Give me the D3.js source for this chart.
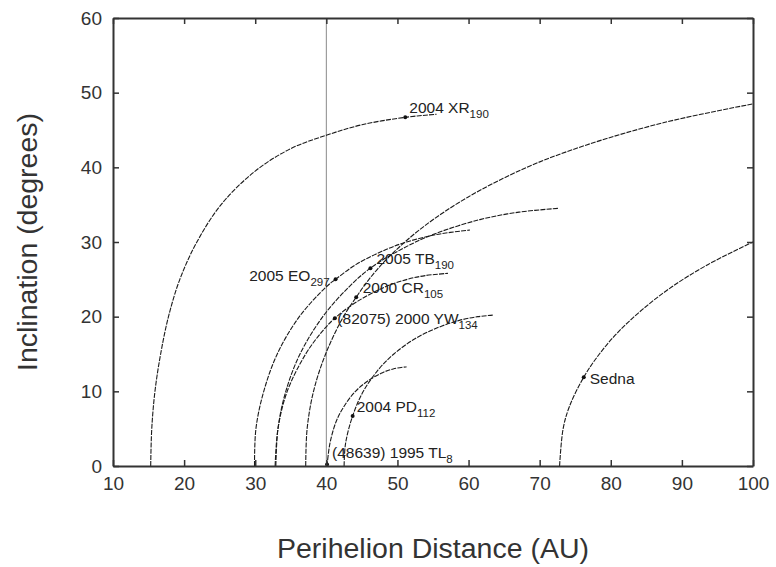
<!DOCTYPE html>
<html>
<head>
<meta charset="utf-8">
<script src="https://cdn.jsdelivr.net/npm/d3@7"></script>
<style>
  body { margin: 0; background: #fff; }
  text { font-family: Arial, "Liberation Sans", sans-serif; }
</style>
</head>
<body>
<div id="chart"></div>
<script>
// ---------------- data ----------------
const xTicks = [10, 20, 30, 40, 50, 60, 70, 80, 90, 100];
const yTicks = [0, 10, 20, 30, 40, 50, 60];

// curves: [perihelion AU, inclination deg]
const curveXR190 = [[15.3,0],[15.45,5],[15.9,10],[16.7,15],[17.8,20],[19.4,25],[21.8,30],[25.2,35],[30,39.5],[35,42.5],[40,44.3],[45,45.7],[51.1,46.7],[55.5,47.1]];
const curveEO297 = [[29.9,0],[30.1,5],[31.2,10],[33.1,15],[36.2,20],[40,24],[41.3,25],[44.2,27],[48.4,29],[51.3,30],[55.5,31],[60.2,31.6]];
const curveTB190 = [[32.9,0],[33.2,5],[34.3,10],[36.3,15],[39.5,20],[43.2,24],[46.2,26.5],[50.5,29],[55,31],[61.6,33],[67.1,34],[72.6,34.5]];
const curveCR105 = [[37.1,0],[37.3,5],[38.2,10],[39.9,15],[42.4,20],[44.2,22.6],[46,25],[48.8,28],[53.6,32],[59.9,36],[68.2,40],[76.6,43],[87.5,46],[100,48.5]];
const curveYW134 = [[32.8,0],[33.2,5],[34.5,10],[37.1,15],[39.4,18],[41.2,19.8],[44.3,22],[48.3,24],[51.4,25],[53.9,25.5],[57.1,25.8]];
const curveTL8   = [[40.1,0],[40.5,3],[41.4,6],[42.5,8],[44.1,10],[46,11.5],[47.9,12.5],[49.4,13],[51.3,13.3]];
const curvePD112 = [[42.5,0],[42.7,3],[43.7,6.7],[45.2,10],[47.4,13],[49.5,15],[52.4,17],[55.6,18.5],[58.7,19.5],[61.3,20],[63.4,20.2]];
const curveSedna = [[72.8,0],[73.3,5],[74.2,8],[76.2,11.9],[78.4,15],[81.1,18],[84.5,21],[88.6,24],[93.7,27],[100,30]];

const curves = [curveXR190, curveEO297, curveTB190, curveCR105, curveYW134, curveTL8, curvePD112, curveSedna];

// objects: label, subscript, perihelion, inclination
const objNames = ["2004 XR", "2005 EO", "2005 TB", "2000 CR", "(82075) 2000 YW", "2004 PD", "(48639) 1995 TL", "Sedna"];
const objSubs  = ["190", "297", "190", "105", "134", "112", "8", ""];
const objQ     = [51.1, 41.3, 46.2, 44.2, 41.2, 43.7, 40.1, 76.2];
const objI     = [46.7, 25.0, 26.5, 22.6, 19.8, 6.7, 0.2, 11.9];

const refLineQ = 40;

// label placement relative to each dot (px)
const labelDx = [4, -6, 6, 6.5, 2.5, 4, 5, 6];
const labelDy = [-4, 1.5, -4.5, -4.5, 5.5, -3.5, -6.5, 6.5];
const labelAnchor = ["start", "end", "start", "start", "start", "start", "start", "start"];

// ---------------- layout ----------------
const W = 776, H = 567;
const margin = { top: 18, right: 23, bottom: 101, left: 113 };
const iw = W - margin.left - margin.right;
const ih = H - margin.top - margin.bottom;

const svg = d3.select("#chart").append("svg").attr("width", W).attr("height", H);
const g = svg.append("g").attr("transform", `translate(${margin.left},${margin.top})`);

const x = d3.scaleLinear().domain([10, 100]).range([0, iw]);
const y = d3.scaleLinear().domain([0, 60]).range([ih, 0]);

// reference line at 40 AU
g.append("line")
  .attr("x1", x(refLineQ)).attr("x2", x(refLineQ))
  .attr("y1", y(0)).attr("y2", y(60))
  .attr("stroke", "#8a8a8a").attr("stroke-width", 1);

// curves
const line = d3.line()
  .x((d) => x(d[0]))
  .y((d) => y(d[1]))
  .curve(d3.curveCatmullRom.alpha(0.5));

g.selectAll(".curve")
  .data(curves)
  .enter()
  .append("path")
  .attr("class", "curve")
  .attr("d", line)
  .attr("fill", "none")
  .attr("stroke", "#1a1a1a")
  .attr("stroke-width", 1.1)
  .attr("stroke-dasharray", "5,1.2");

// dots
g.selectAll(".dot")
  .data(objQ)
  .enter()
  .append("circle")
  .attr("cx", (d) => x(d))
  .attr("cy", (d, k) => y(objI[k]))
  .attr("r", 2)
  .attr("fill", "#111");

// labels
const labels = g.selectAll(".lbl")
  .data(objNames)
  .enter()
  .append("text")
  .attr("x", (d, k) => x(objQ[k]) + labelDx[k])
  .attr("y", (d, k) => y(objI[k]) + labelDy[k])
  .attr("text-anchor", (d, k) => labelAnchor[k])
  .attr("font-size", 15.5)
  .attr("fill", "#222");
labels.append("tspan").text((d) => d);
labels.append("tspan")
  .attr("font-size", 11.5)
  .attr("fill", "#222")
  .attr("dy", 5)
  .text((d, k) => objSubs[k]);

// axes: inward ticks on all four sides
const axisColor = "#333";
g.append("g")
  .attr("transform", `translate(0,${ih})`)
  .call(d3.axisBottom(x).tickValues(xTicks).tickSizeInner(-6).tickSizeOuter(0).tickPadding(11))
  .call((a) => a.selectAll("text").attr("font-size", 19).attr("fill", axisColor));
g.append("g")
  .call(d3.axisTop(x).tickValues(xTicks).tickSizeInner(-6).tickSizeOuter(0).tickFormat(""));
g.append("g")
  .call(d3.axisLeft(y).tickValues(yTicks).tickSizeInner(-6).tickSizeOuter(0).tickPadding(11))
  .call((a) => a.selectAll("text").attr("font-size", 19).attr("fill", axisColor));
g.append("g")
  .attr("transform", `translate(${iw},0)`)
  .call(d3.axisRight(y).tickValues(yTicks).tickSizeInner(-6).tickSizeOuter(0).tickFormat(""));

g.selectAll(".domain").attr("stroke", axisColor).attr("stroke-width", 2);
g.selectAll(".tick line").attr("stroke", axisColor).attr("stroke-width", 1.5);

// axis titles
svg.append("text")
  .attr("x", margin.left + iw / 2)
  .attr("y", 558)
  .attr("text-anchor", "middle")
  .attr("font-size", 27)
  .attr("textLength", 312)
  .attr("lengthAdjust", "spacingAndGlyphs")
  .attr("fill", "#333")
  .text("Perihelion Distance (AU)");

svg.append("text")
  .attr("transform", `translate(37,242) rotate(-90)`)
  .attr("text-anchor", "middle")
  .attr("font-size", 27)
  .attr("textLength", 258)
  .attr("lengthAdjust", "spacingAndGlyphs")
  .attr("fill", "#333")
  .text("Inclination (degrees)");
</script>
</body>
</html>
